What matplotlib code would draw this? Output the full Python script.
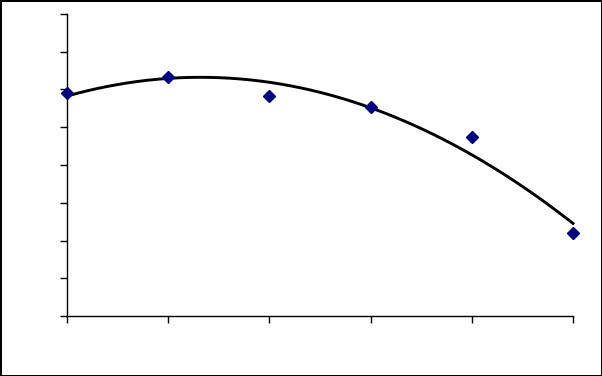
import numpy as np
import matplotlib.pyplot as plt

# values (y axis 0..8, no labels shown)
x_vals = [0, 1, 2, 3, 4, 5]
y_vals = [5.91, 6.33, 5.83, 5.54, 4.74, 2.20]
y_ticks = [0, 1, 2, 3, 4, 5, 6, 7, 8]

# polynomial trendline, like the spreadsheet one
coef = np.polyfit(x_vals, y_vals, 2)
xs = np.linspace(x_vals[0], x_vals[-1], 200)
ys = np.polyval(coef, xs)

fig = plt.figure(figsize=(6.02, 3.76), dpi=100)
fig.patch.set_edgecolor('black')
fig.patch.set_linewidth(2)
ax = fig.add_axes([67/602, 60/376, 506/602, 302/376])

ax.plot(xs, ys, color='black', lw=2.1, clip_on=False)
ax.plot(x_vals, y_vals, 'D', color='#000080', ms=6, clip_on=False, zorder=3)

ax.set_xlim(0, 5)
ax.set_ylim(0, 8)
ax.set_xticks(x_vals)
ax.set_yticks(y_ticks)
ax.set_xticklabels([])
ax.set_yticklabels([])
ax.tick_params(direction='out', length=5, width=1, color='black')
for s in ['top', 'right']:
    ax.spines[s].set_visible(False)
for s in ['left', 'bottom']:
    ax.spines[s].set_linewidth(1)

fig.savefig('out.png', dpi=100, edgecolor=fig.get_edgecolor())
